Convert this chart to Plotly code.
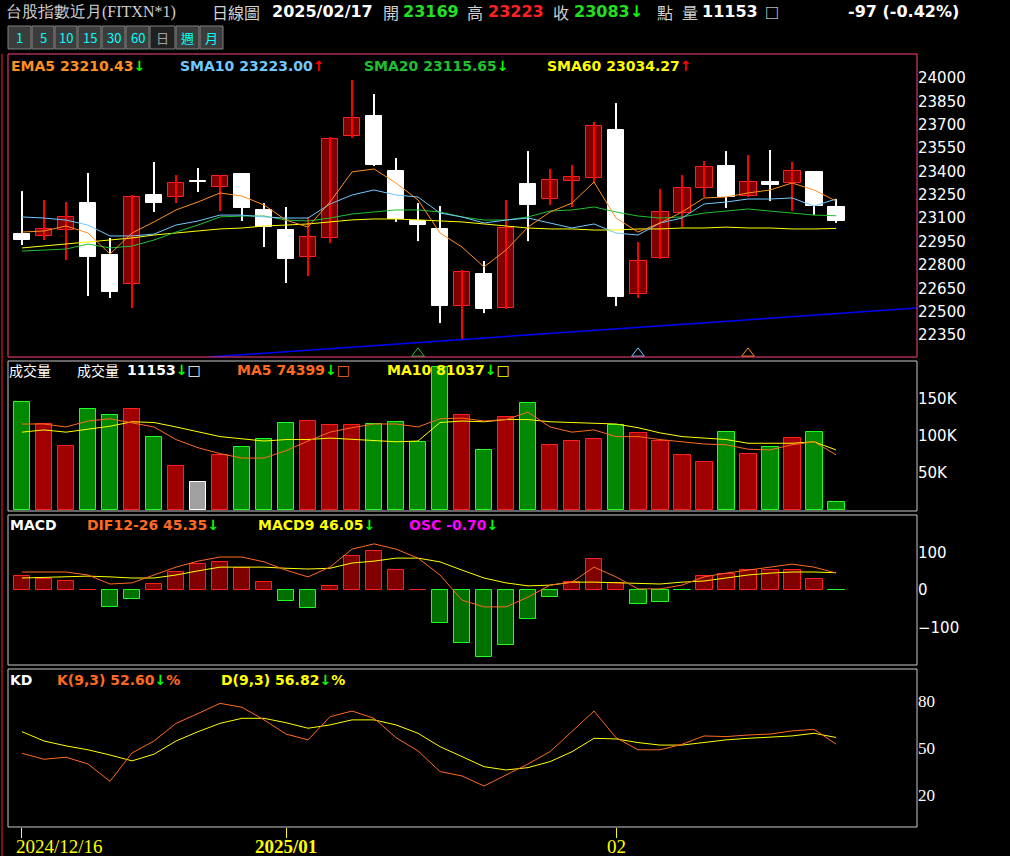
import plotly.graph_objects as go

W, H = 1010, 856

# ---- data ----
opens = [22998, 22986, 23024, 23197, 22864, 22677, 23249, 23236, 23340, 23300,
         23384, 23153, 23024, 22851, 22973, 23628, 23756, 23403, 23082, 23031,
         22536, 22742, 22523, 23320, 23223, 23339, 23358, 23666, 22613, 22844,
         23133, 23294, 23435, 23242, 23332, 23326, 23397, 23169]
closes = [22960, 23031, 23108, 22851, 22626, 23236, 23197, 23326, 23330, 23371,
          23165, 23043, 22838, 22979, 23608, 23743, 23441, 23095, 23056, 22536,
          22755, 22517, 23037, 23185, 23345, 23364, 23692, 22594, 22825, 23140,
          23294, 23429, 23236, 23332, 23310, 23403, 23178, 23083]
highs = [23274, 23217, 23204, 23390, 22973, 23249, 23461, 23377, 23422, 23377,
         23390, 23197, 23172, 23108, 23621, 23987, 23897, 23486, 23197, 23178,
         22767, 22825, 23217, 23531, 23416, 23441, 23718, 23839, 22947, 23287,
         23377, 23467, 23531, 23506, 23538, 23461, 23403, 23223]
lows = [22928, 22960, 22832, 22600, 22588, 22523, 23140, 23197, 23268, 23146,
        23082, 22915, 22684, 22729, 22941, 23615, 23435, 23076, 22953, 22427,
        22318, 22491, 22517, 22953, 23185, 23172, 23326, 22536, 22588, 22838,
        23043, 23236, 23165, 23236, 23210, 23146, 23121, 23070]

ema5 = [23011, 23018, 23050, 23005, 22870, 23005, 23076, 23153, 23204, 23262,
        23242, 23185, 23088, 23043, 23204, 23397, 23416, 23326, 23217, 23005,
        22915, 22787, 22896, 23043, 23140, 23197, 23332, 23101, 23011, 23069,
        23140, 23230, 23236, 23262, 23281, 23326, 23281, 23210.43]
sma10 = [23108, 23101, 23088, 23056, 22986, 22986, 22998, 23056, 23082, 23120,
         23120, 23108, 23101, 23101, 23191, 23249, 23281, 23249, 23236, 23133,
         23108, 23069, 23088, 23101, 23069, 23037, 23063, 23005, 22992, 23069,
         23101, 23191, 23204, 23223, 23223, 23230, 23178, 23223.00]
sma20 = [22889, 22896, 22902, 22934, 22909, 22921, 22960, 23011, 23056, 23108,
         23114, 23114, 23088, 23082, 23101, 23127, 23140, 23153, 23153, 23140,
         23108, 23088, 23088, 23108, 23146, 23153, 23172, 23140, 23114, 23101,
         23108, 23133, 23146, 23159, 23146, 23133, 23120, 23115.65]
sma60 = [22909, 22921, 22934, 22947, 22960, 22973, 22992, 23005, 23018, 23031,
         23037, 23050, 23056, 23063, 23076, 23089, 23095, 23095, 23089, 23082,
         23076, 23063, 23050, 23037, 23031, 23031, 23024, 23024, 23031, 23031,
         23037, 23037, 23043, 23037, 23037, 23031, 23031, 23034.27]
trend_x = [8.5, 40.7]
trend_y = [22209, 22523]

volume = [146000, 116000, 86000, 136000, 128000, 136000, 99000, 59000, 38000, 74000,
          85000, 96000, 118000, 120000, 114000, 114000, 116000, 119000, 92000, 193000,
          128000, 81000, 126000, 144000, 88000, 93000, 96000, 114000, 104000, 93000,
          74000, 65000, 105000, 76000, 85000, 97000, 105000, 11153]
vol_ma5 = [116000, 116000, 112000, 120000, 123000, 118000, 112000, 95000, 84000, 76000,
           70000, 70000, 80000, 93000, 105000, 111000, 116000, 116000, 112000, 123000,
           124000, 120000, 122000, 132000, 112000, 105000, 108000, 99000, 99000, 95000,
           92000, 89000, 88000, 82000, 81000, 88000, 92000, 74399]
vol_ma10 = [105000, 108000, 105000, 109000, 113000, 119000, 118000, 112000, 105000, 99000,
            96000, 93000, 95000, 95000, 97000, 95000, 93000, 92000, 93000, 118000,
            120000, 119000, 122000, 122000, 119000, 118000, 116000, 116000, 111000, 104000,
            99000, 97000, 95000, 90000, 90000, 90000, 92000, 81037]

osc = [38, 30, 24, 1, -46, -25, 15, 47, 69, 74,
       58, 22, -30, -48, 10, 90, 103, 53, 1, -89,
       -142, -179, -146, -78, -19, 21, 82, 18, -38, -32,
       -1, 37, 42, 53, 53, 53, 29, -0.70]
dif = [48, 48, 48, 40, 16, 19, 40, 61, 77, 88,
       88, 75, 53, 35, 61, 109, 123, 109, 85, 40,
       -27, -45, -45, -19, 13, 21, 61, 35, 3, 3,
       13, 35, 45, 53, 61, 69, 61, 45.35]
macd9 = [32, 34, 37, 37, 35, 32, 32, 40, 51, 61,
         61, 61, 58, 56, 58, 72, 77, 85, 85, 75,
         53, 32, 19, 11, 13, 21, 21, 19, 16, 16,
         21, 24, 32, 40, 45, 48, 48, 46.05]

k_val = [46.8, 43, 44.3, 40, 29, 47, 54.6, 65.8, 72, 78.5,
         76, 68, 59, 55.3, 70, 73.6, 69, 56.7, 48.3, 35.2,
         32.4, 26, 33, 40, 47.8, 60.5, 73.6, 56.7, 49, 49,
         52.5, 57.8, 57.4, 58.4, 59, 61, 62, 52.60]
d_val = [60.5, 54.6, 51.5, 49, 45.7, 42, 46.2, 54.6, 60.5, 65.8,
         69, 69, 66.2, 62.7, 64.8, 68, 68, 64.8, 59.5, 51,
         44.7, 38.3, 36.2, 37.7, 41.5, 47.8, 56.3, 55.9, 53.6, 52,
         52, 53.8, 55.3, 56.3, 57, 57.8, 59.5, 56.82]

date_ticks = [0, 12, 27]
date_labels = ["2024/12/16", "<b>2025/01</b>", "02"]
price_ticks = list(range(22350, 24001, 150))
vol_ticks = [50000, 100000, 150000]
vol_labels = ["50K", "100K", "150K"]
macd_ticks = [-100, 0, 100]
kd_ticks = [20, 50, 80]

idx = list(range(len(opens)))


def px(x):
    return x / W


def py(y):
    return 1 - y / H


fig = go.Figure()

# wicks
up = [c > o for o, c in zip(opens, closes)]
for flag, col in [(True, "#ff0000"), (False, "#ffffff")]:
    wx, wy = [], []
    for i in idx:
        if up[i] == flag:
            wx += [i, i, None]
            wy += [lows[i], highs[i], None]
    fig.add_trace(go.Scatter(x=wx, y=wy, mode="lines", line=dict(color=col, width=2),
                             xaxis="x", yaxis="y", hoverinfo="skip"))

fig.add_trace(go.Bar(
    x=idx, y=[abs(c - o) for o, c in zip(opens, closes)],
    base=[min(o, c) for o, c in zip(opens, closes)], width=0.77,
    marker=dict(color=["#800000" if u else "#ffffff" for u in up],
                line=dict(color=["#ff2020" if u else "#ffffff" for u in up], width=1)),
    xaxis="x", yaxis="y"))

for vals, col in [(sma60, "#ffff00"), (sma20, "#20c030"), (sma10, "#70c8ff"), (ema5, "#ff9020")]:
    fig.add_trace(go.Scatter(x=idx, y=vals, mode="lines", line=dict(color=col, width=1),
                             xaxis="x", yaxis="y"))
fig.add_trace(go.Scatter(x=trend_x, y=trend_y, mode="lines", line=dict(color="#0000ff", width=1.5),
                         xaxis="x", yaxis="y"))
fig.add_trace(go.Scatter(x=[18, 28, 33], y=[22232, 22232, 22232], mode="markers",
                         marker=dict(symbol="triangle-up-open", size=11,
                                     color=["#20c030", "#70c8ff", "#ff9020"]),
                         xaxis="x", yaxis="y"))

# volume
vcol, vline = [], []
for o, c in zip(opens, closes):
    if abs(c - o) < 15:
        vcol.append("#a0a0a0"); vline.append("#ffffff")
    elif c > o:
        vcol.append("#a00000"); vline.append("#ff2020")
    else:
        vcol.append("#008800"); vline.append("#20ff20")
fig.add_trace(go.Bar(x=idx, y=volume, width=0.77,
                     marker=dict(color=vcol, line=dict(color=vline, width=1)),
                     xaxis="x2", yaxis="y2"))
fig.add_trace(go.Scatter(x=idx, y=vol_ma10, mode="lines", line=dict(color="#ffff00", width=1),
                         xaxis="x2", yaxis="y2"))
fig.add_trace(go.Scatter(x=idx, y=vol_ma5, mode="lines", line=dict(color="#ff6a20", width=1),
                         xaxis="x2", yaxis="y2"))

# macd
fig.add_trace(go.Bar(x=idx, y=osc, width=0.77,
                     marker=dict(color=["#800000" if v > 0 else "#007000" for v in osc],
                                 line=dict(color=["#ff2020" if v > 0 else "#20ff20" for v in osc], width=1)),
                     xaxis="x3", yaxis="y3"))
fig.add_trace(go.Scatter(x=idx, y=macd9, mode="lines", line=dict(color="#ffff00", width=1),
                         xaxis="x3", yaxis="y3"))
fig.add_trace(go.Scatter(x=idx, y=dif, mode="lines", line=dict(color="#ff6a20", width=1),
                         xaxis="x3", yaxis="y3"))

# kd
fig.add_trace(go.Scatter(x=idx, y=d_val, mode="lines", line=dict(color="#ffff00", width=1),
                         xaxis="x4", yaxis="y4"))
fig.add_trace(go.Scatter(x=idx, y=k_val, mode="lines", line=dict(color="#ff6a20", width=1),
                         xaxis="x4", yaxis="y4"))

xr = [-0.636, 40.68]
xdom = [px(8), px(917)]
tickfont = dict(family="DejaVu Sans", size=15, color="#ffffff")
serif = dict(family="Liberation Serif", size=17, color="#ffffff")


def xax(anchor, show=False):
    d = dict(domain=xdom, range=xr, anchor=anchor, showgrid=False, zeroline=False,
             showline=False, fixedrange=True, showticklabels=False)
    if show:
        d.update(tickvals=date_ticks, ticks="outside", ticklen=10,
                 tickcolor="#ffff00", tickwidth=1)
    return d


def yax(anchor, dom, rng, tv, tt=None, font=tickfont):
    d = dict(domain=dom, range=rng, anchor=anchor, side="right", showgrid=False,
             zeroline=False, showline=False, tickvals=tv, tickfont=font, ticks="",
             tickformat="d")
    if tt:
        d["ticktext"] = tt
    return d


fig.update_layout(
    width=W, height=H, margin=dict(l=0, r=0, t=0, b=0),
    paper_bgcolor="#000000", plot_bgcolor="#000000", showlegend=False, bargap=0,
    xaxis=xax("y"), xaxis2=xax("y2"), xaxis3=xax("y3"), xaxis4=xax("y4", True),
    yaxis=yax("x", [py(357), py(54)], [22209, 24154], price_ticks),
    yaxis2=yax("x2", [py(511), py(361)], [-1400, 201000], vol_ticks, vol_labels),
    yaxis3=yax("x3", [py(665), py(515)], [-200, 200], macd_ticks),
    yaxis4=yax("x4", [py(827), py(669)], [0, 100.3], kd_ticks, font=serif),
)

shapes = [
    dict(type="rect", xref="paper", yref="paper", x0=px(8), x1=px(917), y0=py(357), y1=py(54),
         line=dict(color="#ff4080", width=1)),
    dict(type="line", xref="paper", yref="paper", x0=px(2), x1=px(2), y0=0, y1=py(54),
         line=dict(color="#ff2020", width=1)),
]
for top, bot in [(361, 511), (515, 665), (669, 827)]:
    shapes.append(dict(type="rect", xref="paper", yref="paper", x0=px(8), x1=px(917),
                       y0=py(bot), y1=py(top), line=dict(color="#c8c8c8", width=1)))

# period buttons
btns = ["1", "5", "10", "15", "30", "60", "日", "週", "月"]
bx = [8, 32, 55, 78, 102, 126, 150, 176, 200]
bw = [23, 22, 22, 23, 23, 23, 25, 23, 23]
ann = []
for b, x0, w in zip(btns, bx, bw):
    shapes.append(dict(type="rect", xref="paper", yref="paper", x0=px(x0), x1=px(x0 + w),
                       y0=py(49), y1=py(26), fillcolor="#202020" if b == "日" else "#3c3c3c",
                       line=dict(color="#808080", width=1)))
    ann.append(dict(x=px(x0 + w / 2), y=py(38), text=b, showarrow=False, xref="paper", yref="paper",
                    xanchor="center", yanchor="middle",
                    font=dict(family="Noto Sans CJK TC", size=13,
                              color="#a0a0a0" if b == "日" else "#00ffff")))

fig.update_layout(shapes=shapes)

# date labels under the KD panel
for xi, lab, anc in zip(date_ticks, date_labels, ["left", "center", "center"]):
    ann.append(dict(x=xi - 0.36 if anc == "left" else xi, y=py(846), xref="x4", yref="paper",
                    text=lab, showarrow=False, xanchor=anc, yanchor="middle",
                    font=dict(family="Liberation Serif", size=19, color="#ffff00")))

G = "<span style='color:#00ff00'>↓</span>"
R = "<span style='color:#ff0000'>↑</span>"


def label(x, y, text, color, size=16, family="DejaVu Sans", bold=True):
    t = f"<b>{text}</b>" if bold else text
    ann.append(dict(x=px(x), y=py(y), text=t, showarrow=False, xref="paper", yref="paper",
                    xanchor="left", yanchor="middle", font=dict(family=family, size=size, color=color)))


cjk = "Noto Sans CJK TC"
label(4, 12, "台股指數近月(FITXN*1)", "#d0d0d0", 16, "Liberation Serif", False)
label(210, 12, "日線圖", "#d0d0d0", 16, cjk, False)
label(270, 12, "2025/02/17", "#ffffff", 16)
label(381, 12, "開", "#d0d0d0", 16, cjk, False)
label(401, 12, "23169", "#20e020", 16)
label(465, 12, "高", "#d0d0d0", 16, cjk, False)
label(486, 12, "23223", "#ff2020", 16)
label(551, 12, "收", "#d0d0d0", 16, cjk, False)
label(572, 12, "23083" + G, "#20e020", 16)
label(655, 12, "點", "#d0d0d0", 16, cjk, False)
label(680, 12, "量", "#d0d0d0", 16, cjk, False)
label(700, 12, "11153", "#ffffff", 16)
label(763, 12, "□", "#ffffff", 14, cjk, False)
label(846, 12, "-97 (-0.42%)", "#ffffff", 16)

label(9, 66, "EMA5 23210.43" + G, "#ff9020", 14)
label(178, 66, "SMA10 23223.00" + R, "#70c8ff", 14)
label(362, 66, "SMA20 23115.65" + G, "#20c030", 14)
label(545, 66, "SMA60 23034.27" + R, "#ffff00", 14)

label(7, 370, "成交量", "#ffffff", 14, cjk, False)
label(75, 370, "成交量 ", "#ffffff", 14, cjk, False)
label(125, 370, "11153" + G + "□", "#ffffff", 14)
label(235, 370, "MA5 74399" + G + "□", "#ff6a20", 14)
label(385, 370, "MA10 81037" + G + "□", "#ffff00", 14)

label(8, 525, "MACD", "#ffffff", 14)
label(85, 525, "DIF12-26 45.35" + G, "#ff6a20", 14)
label(256, 525, "MACD9 46.05" + G, "#ffff00", 14)
label(407, 525, "OSC -0.70" + G, "#ff00ff", 14)

label(8, 680, "KD", "#ffffff", 14)
label(55, 680, "K(9,3) 52.60" + G + "%", "#ff6a20", 14)
label(219, 680, "D(9,3) 56.82" + G + "%", "#ffff00", 14)

fig.update_layout(annotations=ann)
fig.write_html("out.html", config={"displayModeBar": False},
               post_script="document.body.style.margin='0';")
